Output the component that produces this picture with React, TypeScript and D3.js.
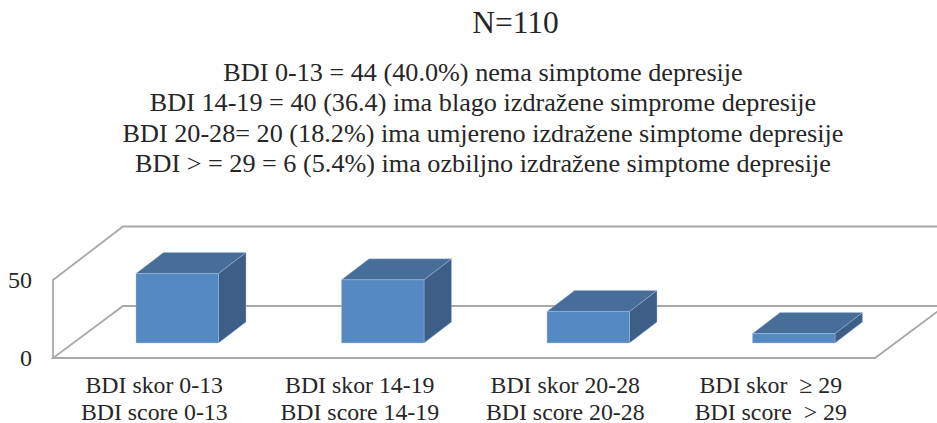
import React from "react";
import * as d3 from "d3";

const categoriesSkor = ["BDI skor 0-13", "BDI skor 14-19", "BDI skor 20-28", "BDI skor \u00a0\u2265 29"];
const categoriesScore = ["BDI score 0-13", "BDI score 14-19", "BDI score 20-28", "BDI score \u00a0> 29"];
const values = [44, 40, 20, 6];
const yTicks = [0, 50];
const title = "N=110";
const summaryLines = [
  "BDI 0-13 = 44 (40.0%) nema simptome depresije",
  "BDI 14-19 = 40 (36.4) ima blago izdra\u017eene simprome depresije",
  "BDI 20-28= 20 (18.2%) ima umjereno izdra\u017eene simptome depresije",
  "BDI > = 29 = 6 (5.4%) ima ozbiljno izdra\u017eene simptome depresije",
];

const W = 937, H = 423;
const font = "'Liberation Serif', serif";
const textColor = "#262626";
const gridColor = "#a8a8a8";

// Front plane of the 3D box
const x0 = 53, x1 = 875, yBase = 358, yTop = 280;
// Full depth of the box and the bars' offset/depth inside it
const depthX = 70, depthY = -52;
const barOffX = 21.5, barOffY = -15, barDX = 27.5, barDY = -21;

const y = d3.scaleLinear().domain([0, 50]).range([yBase, yBase - 79]);
const xFront = d3.scaleBand<number>().domain(d3.range(4)).range([x0, x1]).paddingInner(0).paddingOuter(0);
const barW = 82.5;
const poly = (pts: [number, number][]) => d3.line()(pts) + "Z";

export default function App() {
  const backTop = y(50) + depthY - 0.5;
  return (
    <svg width={W} height={H} style={{ position: "absolute", left: 0, top: 0, background: "#fff" }}>
      {/* walls */}
      <g fill="none" stroke={gridColor} strokeWidth={1.8}>
        <path d={d3.line()([[x0, yBase], [x0, yTop], [x0 + depthX, backTop], [W + 10, backTop]])!} />
        <path d={d3.line()([[W + 10, yBase + depthY], [x0 + depthX, yBase + depthY], [x0, yBase], [x1, yBase], [x1 + depthX, yBase + depthY]])!} />
      </g>
      {/* bars */}
      {values.map((v, i) => {
        const cx = xFront(i)! + xFront.bandwidth() / 2 + barOffX;
        const l = cx - barW / 2, r = cx + barW / 2;
        const b = yBase + barOffY;
        const t = b - (y(0) - y(v));
        return (
          <g key={i} stroke="#a9c4e2" strokeWidth={0.4} strokeLinejoin="round">
            <path d={poly([[r, b], [r, t], [r + barDX, t + barDY], [r + barDX, b + barDY]])} fill="#3c5e87" />
            <path d={poly([[l, t], [r, t], [r + barDX, t + barDY], [l + barDX, t + barDY]])} fill="#476d99" />
            <rect x={l} y={t} width={barW} height={b - t} fill="#5589c1" />
          </g>
        );
      })}
      {/* y tick labels */}
      <g fontFamily={font} fontSize={24} fill={textColor} textAnchor="end">
        {yTicks.map((t) => (
          <text key={t} x={32} y={y(0) - (y(0) - yTop) * (t / 50) + 7.5}>{t}</text>
        ))}
      </g>
      {/* category labels */}
      <g fontFamily={font} fontSize={23.8} fill={textColor} textAnchor="middle">
        {values.map((_, i) => {
          const cx = xFront(i)! + xFront.bandwidth() / 2 - 1.5;
          return (
            <g key={i}>
              <text x={cx} y={393}>{categoriesSkor[i]}</text>
              <text x={cx} y={419.5}>{categoriesScore[i]}</text>
            </g>
          );
        })}
      </g>
      {/* headings */}
      <text x={515.5} y={33} fontFamily={font} fontSize={31.5} fill={textColor} textAnchor="middle">{title}</text>
      <g fontFamily={font} fontSize={26.2} fill={textColor} textAnchor="middle">
        {summaryLines.map((s, i) => (
          <text key={i} x={483} y={81 + i * 30.4}>{s}</text>
        ))}
      </g>
    </svg>
  );
}
